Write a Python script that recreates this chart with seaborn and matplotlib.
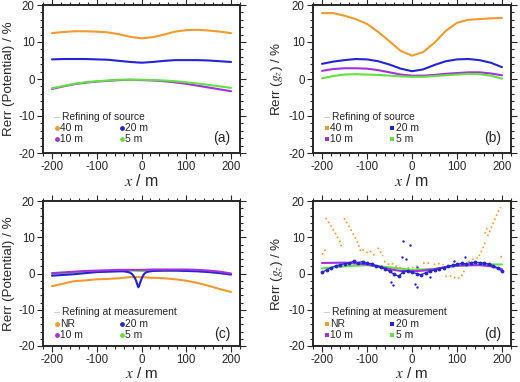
import pandas as pd
import matplotlib
matplotlib.use("Agg")
from matplotlib import pyplot as plt
from matplotlib.ticker import MultipleLocator
import seaborn as sb

"""DATA"""

# x positions (m)
x25 = [-200, -175, -150, -125, -100, -75, -50, -25, 0, 25, 50, 75, 100, 125, 150, 175, 200]

# (a) potential, refining of source
pot_src_40 = [12.4, 12.7, 12.9, 12.9, 12.8, 12.6, 12.1, 11.4, 11.0, 11.3, 12.0, 12.8, 13.2, 13.3, 13.1, 12.8, 12.4]
pot_src_20 = [5.3, 5.4, 5.4, 5.4, 5.3, 5.2, 4.9, 4.6, 4.4, 4.6, 4.9, 5.1, 5.1, 5.1, 5.0, 4.8, 4.6]
pot_src_10 = [-2.7, -2.0, -1.4, -1.0, -0.7, -0.5, -0.3, -0.2, -0.3, -0.4, -0.6, -0.9, -1.3, -1.8, -2.3, -2.8, -3.3]
pot_src_5 = [-2.5, -1.9, -1.3, -0.9, -0.6, -0.4, -0.2, -0.2, -0.2, -0.3, -0.4, -0.6, -0.9, -1.2, -1.6, -2.0, -2.4]

# (b) gz, refining of source
gz_src_40 = [17.8, 17.8, 17.1, 16.2, 14.9, 12.7, 10.2, 7.6, 6.3, 7.3, 9.8, 13.0, 15.2, 16.0, 16.2, 16.4, 16.5]
gz_src_20 = [4.1, 4.7, 5.1, 5.4, 5.3, 4.8, 3.9, 2.8, 2.1, 2.6, 3.8, 4.8, 5.3, 5.4, 5.1, 4.4, 3.2]
gz_src_10 = [2.2, 2.7, 2.9, 2.9, 2.8, 2.4, 1.8, 1.2, 0.9, 0.9, 1.1, 1.4, 1.6, 1.8, 1.8, 1.5, 1.0]
gz_src_5 = [0.2, 0.8, 1.2, 1.3, 1.2, 1.1, 0.9, 0.7, 0.6, 0.6, 0.8, 1.0, 1.2, 1.4, 1.3, 0.9, 0.1]

# (c) potential, refining at measurement
pot_mea_nr = [-3.5, -2.8, -2.1, -1.9, -1.6, -1.5, -1.3, -1.0, -1.0, -1.2, -1.3, -1.6, -2.0, -2.6, -3.4, -4.3, -5.1]
x_c20 = [-200, -175, -150, -125, -100, -75, -50, -40, -30, -25, -20, -15, -12, -9, -7, -5, -3, 0, 3, 6,
         10, 15, 25, 50, 75, 100, 125, 150, 175, 200]
pot_mea_20 = [-0.6, -0.4, -0.2, 0.1, 0.4, 0.5, 0.6, 0.6, 0.4, 0.2, -0.3, -1.2, -2.0, -3.2, -3.8, -3.3, -2.5, -1.5, -0.7, -0.1,
              0.3, 0.5, 0.7, 0.8, 0.8, 0.7, 0.6, 0.4, 0.1, -0.3]
pot_mea_10 = [0.1, 0.3, 0.5, 0.7, 0.8, 0.9, 1.0, 1.0, 1.0, 1.1, 1.1, 1.1, 1.1, 1.0, 0.8, 0.5, 0.0]
pot_mea_5 = [-0.1, 0.1, 0.3, 0.4, 0.5, 0.6, 0.7, 0.8, 0.7, 0.7, 0.8, 0.8, 0.8, 0.7, 0.5, 0.2, -0.2]

# (d) gz, refining at measurement
x10 = [-200, -190, -180, -170, -160, -150, -140, -130, -120, -110, -100, -90, -80, -70, -60, -50, -40, -30, -20, -10, 0,
       10, 20, 30, 40, 50, 60, 70, 80, 90, 100, 110, 120, 130, 140, 150, 160, 170, 180, 190, 200]
gz_mea_20 = [0.3, 1.0, 1.6, 2.1, 2.4, 2.7, 2.9, 3.4, 3.0, 3.3, 2.8, 2.7, 2.2, 1.9, 1.3, 0.6, -0.2, -0.8, 0.4, 0.8, 0.3,
             0.0, -0.4, 0.2, 0.6, 1.0, 1.3, 1.6, 2.0, 2.3, 2.5, 2.8, 2.7, 3.0, 3.1, 3.0, 2.9, 2.6, 2.2, 1.5, 0.6]
gz_mea_20_out_x = [-46, -42, -23, -20, -14, -5, 7, 10, 10, 40, 93, 117]
gz_mea_20_out_y = [-2.3, -3.2, 4.5, 8.9, 4.1, 7.9, -2.9, -3.6, 1.8, -1.1, 3.5, 4.5]
x_d10 = [-200, -150, -100, -50, -25, 0, 25, 50, 75, 100, 150, 175, 200]
gz_mea_10 = [2.9, 3.0, 2.5, 1.2, 0.7, 0.6, 0.8, 1.2, 1.8, 2.2, 2.3, 2.0, 1.2]
x_d5 = [-200, -150, -100, -50, 0, 50, 100, 150, 200]
gz_mea_5 = [1.4, 2.0, 2.3, 1.7, 1.0, 1.3, 2.1, 2.5, 2.5]
# NR is broken into pieces (segment id, x, y)
nr_seg = [0, 0, 0, 1, 1, 1, 1, 1, 2, 2, 2, 2, 2, 3, 3, 3, 4, 4, 4, 5, 5, 5, 6, 6, 6, 7, 7, 7, 8, 8, 8, 8,
          9, 9, 10, 10, 10, 11, 11, 11, 11, 11, 12, 12, 12, 12, 13, 13, 13, 14, 14, 15, 15, 15, 15, 15, 16, 16]
nr_x = [-200, -196, -192, -192, -180, -170, -160, -155, -151, -140, -130, -120, -113, -110, -102, -95, -93, -88, -82,
        -76, -70, -65, -62, -55, -47, -45, -35, -20, -10, 0, 10, 18, 25, 40, 48, 60, 70, 74, 86, 100, 108, 116,
        120, 127, 137, 146, 149, 157, 165, 162, 168, 168, 176, 184, 192, 197, 197, 200]
nr_y = [5.2, 5.9, 6.6, 15.3, 13.2, 11.0, 8.8, 6.8, 15.3, 13.0, 10.8, 8.3, 5.7, 6.6, 6.0, 5.3, 6.2, 5.5, 4.8,
        7.1, 6.0, 4.8, 3.4, 2.8, 2.1, 2.8, 2.0, 1.4, 1.6, 1.6, 2.0, 2.3, 2.9, 2.9, 2.5, 2.7, 2.4, -0.8, -0.7, -1.4, -1.1, 0.7,
        2.2, 3.4, 4.0, 4.4, 4.8, 6.8, 9.3, 11.0, 13.0, 10.3, 12.6, 15.0, 17.2, 18.3, 4.8, 4.4]

"""STYLE"""

col = {"40 m": "#f39a2e", "NR": "#f39a2e", "20 m": "#2424d4", "10 m": "#a032e0", "5 m": "#64e040"}

sb.set_style("ticks")
plt.rcParams["font.family"] = ["Liberation Sans", "DejaVu Sans"]
plt.rcParams["mathtext.fontset"] = "stix"
plt.rcParams["axes.unicode_minus"] = False

fig = plt.figure(figsize=(5.2, 3.82), dpi=100)
axa = fig.add_axes([43 / 520, 1 - 153 / 382, 197 / 520, 148 / 382])
axb = fig.add_axes([313 / 520, 1 - 153 / 382, 198 / 520, 148 / 382])
axc = fig.add_axes([43 / 520, 1 - 346 / 382, 197 / 520, 145 / 382])
axd = fig.add_axes([313 / 520, 1 - 346 / 382, 198 / 520, 145 / 382])


def line(ax, x, y, c, **kw):
    sb.lineplot(x=x, y=y, color=c, ax=ax, lw=1.5, sort=False, estimator=None, **kw)


def frame(ax, ylab, panel, header, names, mark, rows, xpad=0, xsize=11.5):
    ax.set_xlim(-220, 220)
    ax.set_ylim(-20, 20)
    ax.xaxis.set_major_locator(MultipleLocator(100))
    ax.xaxis.set_minor_locator(MultipleLocator(20))
    ax.yaxis.set_major_locator(MultipleLocator(10))
    ax.yaxis.set_minor_locator(MultipleLocator(2))
    ax.tick_params(which="both", direction="out", top=True, right=True, labelsize=8.3, pad=2, width=0.8)
    ax.tick_params(which="major", length=4)
    ax.tick_params(which="minor", length=2)
    for s in ax.spines.values():
        s.set_linewidth(1.4)
    ax.set_xlabel("$x$ / m", fontsize=xsize, labelpad=xpad)
    ax.set_ylabel(ylab, fontsize=9.6, labelpad=2)
    tr = ax.transAxes
    # legend drawn by hand, GMT style
    ax.plot([0.058, 0.08], [rows[0], rows[0]], color="#cccccc", lw=0.8, transform=tr)
    ax.text(0.095, rows[0], header, fontsize=7.4, va="center", ha="left", transform=tr)
    for i, n in enumerate(names):
        cx = 0.07 if i % 2 == 0 else 0.40
        cy = rows[1] if i < 2 else rows[2]
        ax.scatter([cx], [cy], s=12, marker=mark, color=col[n], transform=tr, zorder=5, lw=0)
        ax.text(cx + 0.018, cy, n, fontsize=7.4, va="center", ha="left", transform=tr)
    ax.text(0.95, rows[2] + 0.005, panel, fontsize=10, va="center", ha="right", transform=tr)


# (a)
line(axa, x25, pot_src_40, col["40 m"])
line(axa, x25, pot_src_20, col["20 m"])
line(axa, x25, pot_src_10, col["10 m"])
line(axa, x25, pot_src_5, col["5 m"])
frame(axa, "Rerr (Potential) / %", "(a)", "Refining of source", ["40 m", "20 m", "10 m", "5 m"], "o",
      [0.243, 0.169, 0.095])

# (b)
line(axb, x25, gz_src_40, col["40 m"])
line(axb, x25, gz_src_20, col["20 m"])
line(axb, x25, gz_src_10, col["10 m"])
line(axb, x25, gz_src_5, col["5 m"])
frame(axb, "Rerr ($g_z$) / %", "(b)", "Refining of source", ["40 m", "20 m", "10 m", "5 m"], "s",
      [0.243, 0.169, 0.095])

# (c)
line(axc, x25, pot_mea_nr, col["NR"])
line(axc, x25, pot_mea_5, col["5 m"])
line(axc, x_c20, pot_mea_20, col["20 m"])
line(axc, x25, pot_mea_10, col["10 m"])
frame(axc, "Rerr (Potential) / %", "(c)", "Refining at measurement", ["NR", "20 m", "10 m", "5 m"], "o",
      [0.235, 0.155, 0.077], xpad=-0.5, xsize=11)

# (d)
nr_df = pd.DataFrame({"seg": nr_seg, "x": nr_x, "y": nr_y})
sb.lineplot(data=nr_df, x="x", y="y", units="seg", estimator=None, sort=False, color=col["NR"],
            lw=1.2, ls=":", ax=axd)
line(axd, x_d5, gz_mea_5, col["5 m"])
line(axd, x_d10, gz_mea_10, col["10 m"])
sb.lineplot(x=x10, y=gz_mea_20, color=col["20 m"], lw=0.9, marker="o", markersize=2, mec=col["20 m"],
            sort=False, estimator=None, ax=axd)
sb.scatterplot(x=gz_mea_20_out_x, y=gz_mea_20_out_y, color=col["20 m"], s=3, lw=0, ax=axd)
frame(axd, "Rerr ($g_z$) / %", "(d)", "Refining at measurement", ["NR", "20 m", "10 m", "5 m"], "s",
      [0.235, 0.155, 0.077], xpad=-0.5, xsize=11)

plt.savefig("out.png", dpi=100)
plt.close()
